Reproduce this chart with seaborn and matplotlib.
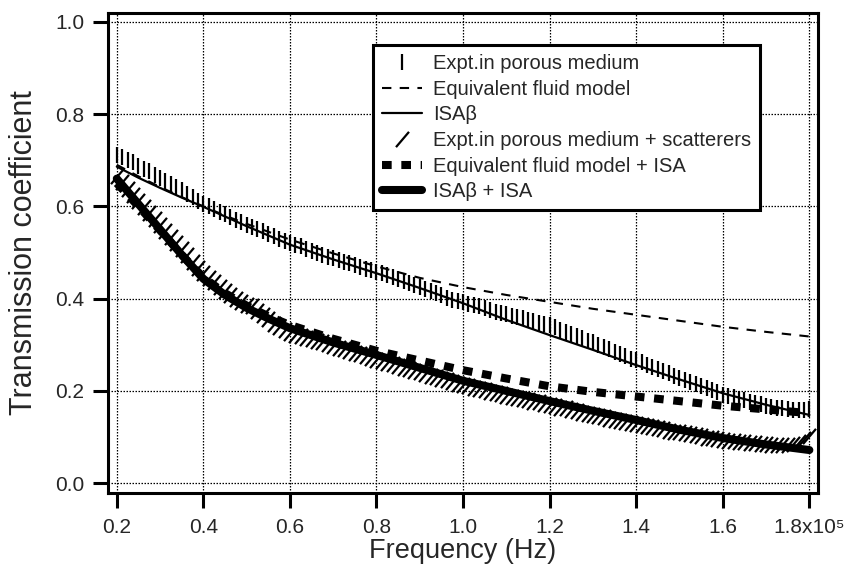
import numpy as np
import matplotlib
matplotlib.use("Agg")
import matplotlib.pyplot as plt
import seaborn as sns
from matplotlib.path import Path

# model curves (frequency in units of 1e5 Hz)
freq_model = [0.2, 0.25, 0.3, 0.35, 0.4, 0.45, 0.5, 0.55, 0.6, 0.7, 0.8, 0.9, 1.0,
              1.1, 1.2, 1.3, 1.4, 1.5, 1.6, 1.7, 1.8]
eq_fluid = [0.690, 0.665, 0.642, 0.620, 0.600, 0.580, 0.562, 0.545, 0.528,
            0.498, 0.470, 0.445, 0.425, 0.408, 0.393, 0.378, 0.365, 0.352,
            0.339, 0.328, 0.318]
isa_beta = [0.686, 0.662, 0.640, 0.619, 0.599, 0.578, 0.557, 0.537, 0.517,
            0.485, 0.455, 0.423, 0.390, 0.354, 0.321, 0.289, 0.256, 0.225,
            0.195, 0.170, 0.148]
eq_fluid_isa = [0.650, 0.600, 0.548, 0.495, 0.446, 0.412, 0.385, 0.362, 0.343,
                0.313, 0.287, 0.266, 0.245, 0.227, 0.210, 0.198, 0.188, 0.178,
                0.168, 0.160, 0.152]
isa_beta_isa = [0.660, 0.605, 0.550, 0.495, 0.443, 0.408, 0.380, 0.357, 0.336,
                0.305, 0.278, 0.250, 0.222, 0.200, 0.178, 0.157, 0.137, 0.116,
                0.098, 0.084, 0.072]

# measured data, one point every 0.0125
freq_expt = np.linspace(0.2, 1.8, 129)
expt_porous = [
    0.712, 0.706, 0.700, 0.695, 0.688, 0.681, 0.676, 0.668,
    0.661, 0.655, 0.648, 0.641, 0.635, 0.627, 0.620, 0.612,
    0.604, 0.600, 0.594, 0.588, 0.583, 0.576, 0.571, 0.565,
    0.559, 0.556, 0.550, 0.546, 0.540, 0.535, 0.530, 0.525,
    0.521, 0.516, 0.513, 0.508, 0.503, 0.499, 0.495, 0.491,
    0.487, 0.484, 0.480, 0.478, 0.472, 0.469, 0.465, 0.461,
    0.458, 0.455, 0.451, 0.447, 0.443, 0.438, 0.434, 0.430,
    0.425, 0.421, 0.416, 0.412, 0.407, 0.402, 0.398, 0.394,
    0.392, 0.388, 0.386, 0.383, 0.380, 0.376, 0.372, 0.369,
    0.366, 0.362, 0.360, 0.357, 0.354, 0.351, 0.348, 0.346,
    0.343, 0.338, 0.333, 0.328, 0.323, 0.318, 0.314, 0.309,
    0.305, 0.300, 0.295, 0.290, 0.285, 0.280, 0.275, 0.270,
    0.266, 0.262, 0.257, 0.252, 0.248, 0.243, 0.238, 0.233,
    0.228, 0.224, 0.219, 0.215, 0.210, 0.206, 0.201, 0.197,
    0.192, 0.189, 0.186, 0.183, 0.180, 0.177, 0.174, 0.171,
    0.168, 0.166, 0.164, 0.162, 0.161, 0.159, 0.158, 0.158,
    0.160]
expt_scat = [
    0.665, 0.652, 0.638, 0.625, 0.612, 0.598, 0.585, 0.572,
    0.560, 0.547, 0.534, 0.521, 0.508, 0.494, 0.480, 0.467,
    0.455, 0.445, 0.436, 0.426, 0.416, 0.407, 0.400, 0.393,
    0.387, 0.383, 0.374, 0.365, 0.356, 0.346, 0.338, 0.331,
    0.325, 0.321, 0.318, 0.315, 0.312, 0.308, 0.305, 0.301,
    0.298, 0.294, 0.290, 0.286, 0.283, 0.279, 0.275, 0.272,
    0.268, 0.265, 0.261, 0.258, 0.254, 0.250, 0.247, 0.243,
    0.240, 0.236, 0.233, 0.230, 0.226, 0.223, 0.219, 0.216,
    0.213, 0.210, 0.207, 0.204, 0.201, 0.198, 0.196, 0.193,
    0.190, 0.187, 0.185, 0.182, 0.180, 0.177, 0.175, 0.172,
    0.170, 0.167, 0.164, 0.162, 0.159, 0.156, 0.153, 0.151,
    0.148, 0.145, 0.143, 0.140, 0.138, 0.135, 0.133, 0.130,
    0.128, 0.126, 0.123, 0.121, 0.119, 0.117, 0.114, 0.112,
    0.110, 0.108, 0.106, 0.104, 0.102, 0.099, 0.097, 0.095,
    0.093, 0.092, 0.091, 0.090, 0.089, 0.088, 0.087, 0.085,
    0.084, 0.083, 0.082, 0.082, 0.083, 0.086, 0.090, 0.095,
    0.102]

x_ticks = [0.2, 0.4, 0.6, 0.8, 1.0, 1.2, 1.4, 1.6, 1.8]
x_ticklabels = ["0.2", "0.4", "0.6", "0.8", "1.0", "1.2", "1.4", "1.6", "1.8x10⁵"]
y_ticks = [0.0, 0.2, 0.4, 0.6, 0.8, 1.0]
legend_labels = ["Expt.in porous medium", "Equivalent fluid model", "ISAβ",
                 "Expt.in porous medium + scatterers",
                 "Equivalent fluid model + ISA", "ISAβ + ISA"]

sns.set_style("ticks")
plt.rcParams["font.family"] = ["Liberation Sans", "DejaVu Sans"]

fig, ax = plt.subplots(figsize=(8.44, 5.68), dpi=100)
fig.subplots_adjust(left=0.1276, right=0.9692, bottom=0.1326, top=0.9776)

slash = Path([(-0.85, -1.0), (0.85, 1.0)], [Path.MOVETO, Path.LINETO])

sns.lineplot(x=freq_expt, y=expt_porous, ax=ax, linestyle="none", marker="|",
             markersize=12, markeredgewidth=1.6, markeredgecolor="black", color="black")
sns.lineplot(x=freq_model, y=eq_fluid, ax=ax, color="black", linewidth=1.5,
             linestyle=(0, (4.5, 4)))
sns.lineplot(x=freq_model, y=isa_beta, ax=ax, color="black", linewidth=1.6)
sns.lineplot(x=freq_expt, y=expt_scat, ax=ax, linestyle="none", marker=slash,
             markersize=11, markeredgewidth=1.6, markeredgecolor="black",
             markerfacecolor="none", color="black")
sns.lineplot(x=freq_model, y=eq_fluid_isa, ax=ax, color="black", linewidth=5.8,
             linestyle=(0, (1.2, 1.2)), dash_capstyle="butt")
sns.lineplot(x=freq_model, y=isa_beta_isa, ax=ax, color="black", linewidth=5.8)

ax.set_xlim(0.179, 1.820)
ax.set_ylim(-0.0204, 1.0195)
ax.set_xticks(x_ticks)
ax.set_xticklabels(x_ticklabels)
ax.set_yticks(y_ticks)
ax.set_yticklabels([f"{v:.1f}" for v in y_ticks])
ax.tick_params(direction="out", length=11, width=2.2, labelsize=15, pad=6, color="black")
ax.tick_params(axis="x", pad=7.5)

ax.set_axisbelow(True)
ax.grid(True, color="black", linestyle=(0, (1.2, 1.2)), linewidth=0.9)
for s in ax.spines.values():
    s.set_visible(True)
    s.set_linewidth(2.2)
    s.set_color("black")

ax.set_xlabel("Frequency (Hz)", fontsize=19.5)
ax.set_ylabel("Transmission coefficient", fontsize=22)
ax.yaxis.set_label_coords(-0.097, 0.5)
ax.xaxis.set_label_coords(0.5, -0.0944)

leg = ax.legend(ax.get_lines()[:6], legend_labels, loc="upper left",
                bbox_to_anchor=(0.3735, 0.9327), borderaxespad=0, fontsize=14.5,
                frameon=True, fancybox=False, framealpha=1, edgecolor="black",
                handlelength=1.99, handletextpad=0.55, labelspacing=0.33,
                borderpad=0.45)
leg.get_frame().set_linewidth(2.2)

fig.savefig("out.png", dpi=100)
